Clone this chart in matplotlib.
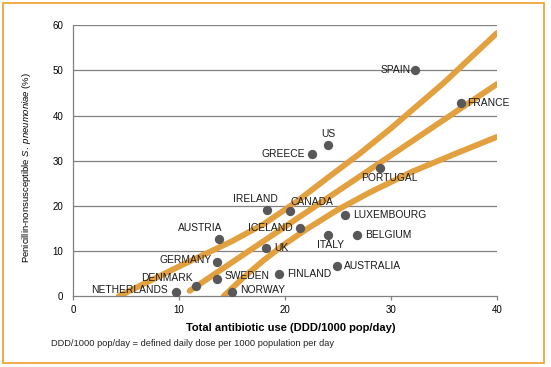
import matplotlib
matplotlib.use("Agg")
import matplotlib.pyplot as plt
from matplotlib.patches import Rectangle

plt.rcParams["font.family"] = ["Liberation Sans", "DejaVu Sans"]
plt.rcParams["mathtext.fontset"] = "custom"
plt.rcParams["mathtext.it"] = "Liberation Sans:italic"
plt.rcParams["mathtext.rm"] = "Liberation Sans"

# country points: total antibiotic use vs % penicillin-nonsusceptible
countries = ["SPAIN", "FRANCE", "US", "GREECE", "PORTUGAL", "IRELAND", "CANADA",
             "AUSTRIA", "ICELAND", "UK", "ITALY", "BELGIUM", "LUXEMBOURG",
             "AUSTRALIA", "FINLAND", "NORWAY", "SWEDEN", "DENMARK", "GERMANY",
             "NETHERLANDS"]
usage = [32.3, 36.6, 24.1, 22.5, 29.0, 18.3, 20.5, 13.8, 21.4, 18.2, 24.1, 26.8,
         25.7, 24.9, 19.4, 15.0, 13.6, 11.6, 13.6, 9.7]
resistance = [50.1, 42.8, 33.6, 31.5, 28.3, 19.1, 18.9, 12.6, 15.2, 10.7, 13.6,
              13.6, 18.1, 6.8, 4.9, 0.9, 3.8, 2.3, 7.5, 1.0]

# regression line and confidence bands
fit_x = [11.0, 40.0]
fit_y = [1.2, 47.0]
upper_x = [4.3, 10.0, 15.0, 18.0, 21.0, 24.0, 27.0, 30.0, 35.0, 40.0]
upper_y = [0.0, 6.6, 12.2, 16.0, 20.8, 26.2, 31.5, 37.2, 47.3, 58.3]
lower_x = [14.2, 16.0, 18.0, 20.0, 22.0, 25.0, 28.0, 32.0, 36.0, 40.0]
lower_y = [0.0, 4.0, 8.0, 11.6, 14.8, 19.2, 23.0, 27.6, 31.5, 35.3]

x_ticks = [0, 10, 20, 30, 40]
y_ticks = [0, 10, 20, 30, 40, 50, 60]

# label placement: (dx, dy in pixels, ha, va)
label_pos = {
    "SPAIN": (-5, 0, "right", "center"),
    "FRANCE": (6, 0, "left", "center"),
    "US": (0, 6, "center", "bottom"),
    "GREECE": (-7, 0, "right", "center"),
    "PORTUGAL": (9, -5, "center", "top"),
    "IRELAND": (-12, 11, "center", "center"),
    "CANADA": (0, 8.5, "left", "center"),
    "AUSTRIA": (-19, 11, "center", "center"),
    "ICELAND": (-7, 0, "right", "center"),
    "UK": (8, 0, "left", "center"),
    "ITALY": (2, -10, "center", "center"),
    "BELGIUM": (8, 0, "left", "center"),
    "LUXEMBOURG": (8, 0, "left", "center"),
    "AUSTRALIA": (7, 0, "left", "center"),
    "FINLAND": (8, 0, "left", "center"),
    "NORWAY": (8, 2, "left", "center"),
    "SWEDEN": (7, 3, "left", "center"),
    "DENMARK": (-3, 8, "right", "center"),
    "GERMANY": (-6, 2, "right", "center"),
    "NETHERLANDS": (-8, 1.5, "right", "center"),
}

ORANGE = "#E2A03E"
GRAY = "#808080"
DOT = "#58585B"

fig = plt.figure(figsize=(5.51, 3.67), dpi=100)
fig.patch.set_facecolor("white")
fig.patches.append(Rectangle((3 / 551, 1 - 363 / 367), 541 / 551, 360 / 367,
                             transform=fig.transFigure, fill=False,
                             ec="#F0A43A", lw=1.3))

ax = fig.add_axes([73 / 551, 1 - 296.3 / 367, 424 / 551, 271 / 367])
ax.set_xlim(0, 40)
ax.set_ylim(0, 60)

for y in y_ticks[1:]:
    ax.axhline(y, color=GRAY, lw=0.9, zorder=0)

for s in ("top", "right"):
    ax.spines[s].set_visible(False)
for s in ("left", "bottom"):
    ax.spines[s].set_color(GRAY)
    ax.spines[s].set_linewidth(0.9)

ax.set_xticks(x_ticks)
ax.set_yticks(y_ticks)
ax.tick_params(axis="x", length=3, width=0.9, color=GRAY, labelsize=7, pad=3)
ax.tick_params(axis="y", length=0, labelsize=7, pad=7)

band = dict(color=ORANGE, lw=4.2, solid_capstyle="round",
            solid_joinstyle="round", zorder=2)
ax.plot(upper_x, upper_y, **band)
ax.plot(fit_x, fit_y, **band)
ax.plot(lower_x, lower_y, **band)

ax.scatter(usage, resistance, s=45, color=DOT, zorder=3, linewidths=0)

for name, x, y in zip(countries, usage, resistance):
    dx, dy, ha, va = label_pos[name]
    ax.annotate(name, (x, y), xytext=(dx, dy), textcoords="offset pixels",
                ha=ha, va=va, fontsize=7.4, color="#1a1a1a", zorder=4)

ax.set_xlabel("Total antibiotic use (DDD/1000 pop/day)", fontsize=8,
              fontweight="bold")
ax.xaxis.set_label_coords(20.5 / 40, -(323.3 - 296.3) / 271)
ax.set_ylabel(r"Penicillin-nonsusceptible $\mathit{S.\ pneumoniae}$ (%)",
              fontsize=6.8)
ax.yaxis.set_label_coords(-40 / 424, 0.475)

fig.text(51 / 551, 1 - 343.3 / 367,
         "DDD/1000 pop/day = defined daily dose per 1000 population per day",
         fontsize=6.7, ha="left", va="center", color="#222222")

fig.savefig("out.png", dpi=100)
